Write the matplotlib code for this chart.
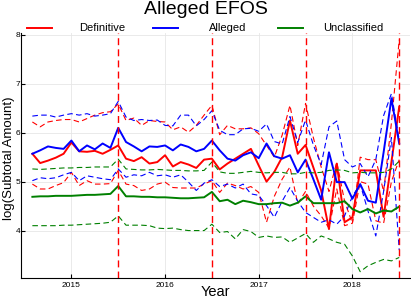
import numpy as np
import pandas as pd
import matplotlib
matplotlib.use("Agg")
import matplotlib.pyplot as plt
from matplotlib.lines import Line2D

plt.rcParams['font.family'] = ['Liberation Sans', 'DejaVu Sans']

# monthly points, Aug 2014 .. Jul 2018
months = pd.date_range("2014-08-01", "2018-07-01", freq="MS")
x = months.year + (months.month - 1) / 12

# Definitive (red)
def_mid = [5.57, 5.38, 5.43, 5.49, 5.57, 5.80, 5.62, 5.61, 5.63, 5.57, 5.65, 5.74,
           5.47, 5.42, 5.50, 5.37, 5.40, 5.54, 5.31, 5.40, 5.35, 5.28, 5.45, 5.47,
           5.25, 5.37, 5.47, 5.57, 5.67, 5.33, 5.00, 5.20, 5.50, 6.25, 5.57, 5.75,
           5.29, 4.82, 4.03, 5.37, 4.17, 4.27, 5.23, 5.23, 5.23, 4.28, 5.40, 6.53]
def_hi = [6.22, 6.12, 6.22, 6.25, 6.27, 6.27, 6.22, 6.29, 6.36, 6.41, 6.43, 6.59,
          6.25, 6.30, 6.15, 6.25, 6.23, 6.22, 6.06, 6.12, 6.01, 6.15, 6.36, 6.56,
          5.96, 6.15, 6.08, 6.08, 6.10, 5.98, 5.74, 5.50, 5.95, 6.56, 5.74, 6.60,
          5.90, 5.30, 4.80, 5.40, 4.60, 4.15, 5.50, 5.45, 5.45, 4.80, 6.20, 7.90]
def_lo = [4.95, 4.85, 4.85, 4.92, 4.98, 5.19, 4.92, 5.02, 4.95, 4.95, 4.96, 5.23,
          4.95, 4.92, 4.82, 4.85, 4.95, 4.99, 4.88, 4.87, 4.87, 4.87, 4.95, 5.02,
          4.78, 4.97, 4.92, 4.85, 4.90, 4.78, 4.17, 4.70, 5.05, 5.30, 4.55, 4.80,
          4.50, 4.30, 4.05, 4.85, 4.10, 4.15, 5.00, 4.95, 4.20, 4.15, 5.00, 5.45]

# Alleged (blue)
all_mid = [5.57, 5.64, 5.72, 5.69, 5.67, 5.84, 5.62, 5.74, 5.66, 5.78, 5.69, 6.10,
           5.81, 5.72, 5.62, 5.72, 5.71, 5.74, 5.64, 5.76, 5.71, 5.62, 5.67, 5.84,
           5.64, 5.47, 5.43, 5.54, 5.60, 5.48, 5.78, 5.52, 5.47, 5.54, 5.19, 5.45,
           5.05, 4.63, 5.60, 4.99, 4.99, 4.65, 4.95, 4.61, 4.57, 5.60, 6.70, 5.78]
all_hi = [6.34, 6.36, 6.36, 6.32, 6.36, 6.39, 6.36, 6.39, 6.34, 6.36, 6.39, 6.64,
          6.32, 6.25, 6.27, 6.25, 6.26, 6.15, 6.14, 6.36, 6.36, 6.14, 6.27, 6.45,
          6.05, 5.96, 5.96, 6.08, 6.09, 6.03, 6.18, 5.82, 5.77, 6.33, 5.80, 6.26,
          5.75, 5.35, 6.12, 6.24, 5.45, 5.30, 5.37, 5.10, 5.45, 6.35, 6.80, 5.85]
all_lo = [5.02, 5.08, 5.06, 5.08, 5.14, 5.19, 5.02, 5.12, 5.09, 5.06, 5.04, 5.26,
          5.09, 5.14, 5.12, 5.19, 5.12, 5.14, 5.09, 5.14, 4.99, 4.82, 4.97, 5.04,
          4.90, 4.95, 4.87, 4.95, 4.75, 4.72, 4.51, 4.27, 4.60, 4.88, 4.60, 4.37,
          4.27, 4.17, 4.22, 4.13, 4.30, 4.70, 4.95, 4.40, 3.89, 4.80, 5.90, 3.60]

# Unclassified (green)
unc_mid = [4.69, 4.70, 4.70, 4.71, 4.71, 4.71, 4.72, 4.73, 4.73, 4.74, 4.75, 4.91,
           4.70, 4.70, 4.69, 4.69, 4.68, 4.68, 4.67, 4.66, 4.66, 4.67, 4.68, 4.79,
           4.60, 4.63, 4.54, 4.61, 4.58, 4.54, 4.54, 4.56, 4.57, 4.51, 4.57, 4.70,
           4.56, 4.56, 4.56, 4.56, 4.60, 4.44, 4.37, 4.44, 4.35, 4.41, 4.39, 4.49]
unc_hi = [5.26, 5.25, 5.26, 5.27, 5.28, 5.28, 5.29, 5.29, 5.30, 5.30, 5.30, 5.46,
          5.26, 5.25, 5.24, 5.24, 5.25, 5.24, 5.23, 5.23, 5.22, 5.22, 5.23, 5.40,
          5.20, 5.17, 5.17, 5.19, 5.21, 5.19, 5.18, 5.19, 5.19, 5.16, 5.16, 5.19,
          5.18, 5.19, 5.23, 5.24, 5.23, 5.18, 5.19, 5.18, 5.18, 5.19, 5.26, 5.42]
unc_lo = [4.10, 4.10, 4.10, 4.10, 4.11, 4.11, 4.12, 4.13, 4.14, 4.15, 4.17, 4.30,
          4.11, 4.11, 4.11, 4.10, 4.05, 4.04, 4.05, 4.02, 4.00, 4.00, 4.00, 4.13,
          3.96, 3.98, 3.83, 4.02, 3.98, 3.86, 3.89, 3.86, 3.87, 3.76, 3.85, 3.94,
          3.76, 3.89, 3.83, 3.76, 3.72, 3.48, 3.16, 3.28, 3.35, 3.41, 3.38, 3.45]

series = [("Definitive", "red", def_mid, def_hi, def_lo),
          ("Alleged", "blue", all_mid, all_hi, all_lo),
          ("Unclassified", "green", unc_mid, unc_hi, unc_lo)]
vlines = [2015.5, 2016.5, 2017.5, 2018.5]

fig = plt.figure(figsize=(4.11, 2.99), dpi=100)
ax = fig.add_axes([0.052, 0.071, 0.946, 0.818])

for name, col, mid, hi, lo in series:
    ax.plot(x, mid, color=col, lw=1.4)
    ax.plot(x, hi, color=col, lw=0.8, dashes=(5, 3))
    ax.plot(x, lo, color=col, lw=0.8, dashes=(5, 3))
for v in vlines:
    ax.axvline(v, color="red", lw=1.0, dashes=(5, 3))

ax.set_xlim(2014.466, 2018.617)
ax.set_ylim(3.035, 8.035)
ax.set_xticks([2015, 2016, 2017, 2018])
ax.set_yticks([4, 5, 6, 7, 8])
ax.tick_params(direction="in", length=3, width=0.8, labelsize=6)
ax.tick_params(axis="x", pad=3)
ax.tick_params(axis="y", pad=1)
ax.grid(True, color="#e6e6e6", lw=0.6)
ax.set_axisbelow(True)
for s in ["top", "right"]:
    ax.spines[s].set_visible(False)
ax.set_xlabel("Year", fontsize=10.5)
ax.set_ylabel("log(Subtotal Amount)", fontsize=9.5)
ax.xaxis.set_label_coords(0.5, -0.028)
ax.yaxis.set_label_coords(-0.0165, 0.49)

fig.text(0.5, 0.968, "Alleged EFOS", ha="center", va="center", fontsize=14)

# legend row above the plot
for k, (name, col, *_rest) in enumerate(series):
    x0 = (27 + 125.5 * k) / 411
    fig.add_artist(Line2D([x0, x0 + 25 / 411], [0.908, 0.908], color=col, lw=1.4,
                          transform=fig.transFigure))
    fig.text(x0 + 75 / 411, 0.908, name, ha="center", va="center", fontsize=8)

fig.savefig("out.png", dpi=100)
